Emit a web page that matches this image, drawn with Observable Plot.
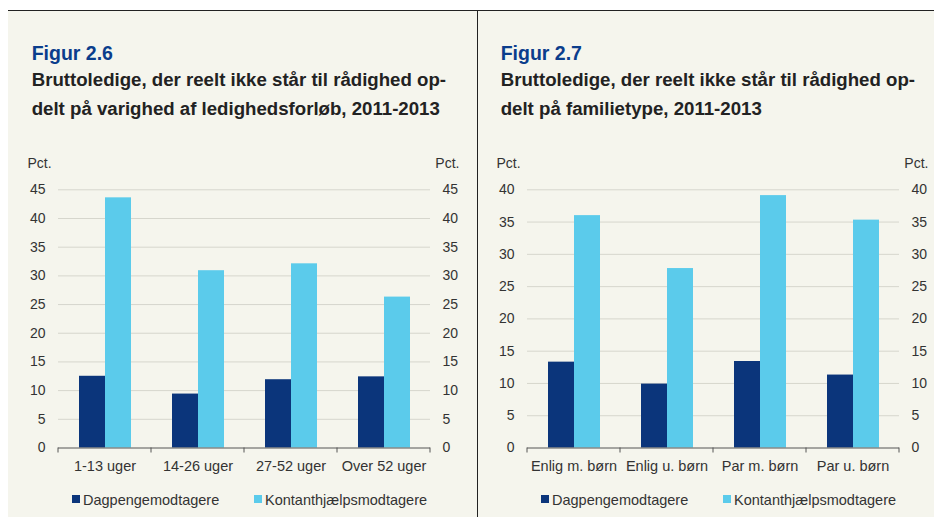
<!DOCTYPE html>
<html><head><meta charset="utf-8">
<script src="https://cdn.jsdelivr.net/npm/d3@7"></script>
<script src="https://cdn.jsdelivr.net/npm/@observablehq/plot@0.6"></script>
<style>
body{margin:0;background:#fff;font-family:"Liberation Sans",Arial,sans-serif;}
#wrap{position:relative;width:934px;height:517px;overflow:hidden;background:#fff}
.panel{position:absolute;top:10px;height:507px;background:#f5f5ed;border-top:1.3px solid #222;box-sizing:border-box}
.title{position:absolute;top:33px;font-size:19.5px;line-height:19.5px;font-weight:bold;color:#0b3d8c;white-space:nowrap}
.sub{position:absolute;top:55.3px;font-size:18.65px;line-height:28.4px;font-weight:bold;color:#222;white-space:nowrap}
.pct{position:absolute;top:145px;font-size:14px;line-height:14px;color:#333}
.chart{position:absolute;left:0;top:140px}
.legend{position:absolute;top:482px;font-size:14.5px;line-height:14.5px;color:#333;white-space:nowrap}
.sw{position:absolute;width:8px;height:8px;top:2px}
.lt{position:absolute;top:0}
</style>
</head><body><div id="wrap"></div>
<script>
const series = ["Dagpengemodtagere", "Kontanthjælpsmodtagere"];
const seriesColors = ["#0b357b", "#5bcbeb"];

const categories26 = ["1-13 uger", "14-26 uger", "27-52 uger", "Over 52 uger"];
const dagpenge26 = [12.5, 9.4, 11.9, 12.4];
const kontant26 = [43.6, 30.9, 32.1, 26.3];
const yTicks26 = [0, 5, 10, 15, 20, 25, 30, 35, 40, 45];

const categories27 = ["Enlig m. børn", "Enlig u. børn", "Par m. børn", "Par u. børn"];
const dagpenge27 = [13.3, 9.9, 13.4, 11.3];
const kontant27 = [36.0, 27.8, 39.1, 35.3];
const yTicks27 = [0, 5, 10, 15, 20, 25, 30, 35, 40];

const titles = ["Figur 2.6", "Figur 2.7"];
const subtitles = [
  ["Bruttoledige, der reelt ikke står til rådighed op-", "delt på varighed af ledighedsforløb, 2011-2013"],
  ["Bruttoledige, der reelt ikke står til rådighed op-", "delt på familietype, 2011-2013"]
];
const unit = "Pct.";

function chart(categories, d, k, ticks, width, marginRight) {
  const rows = categories.flatMap((c, i) => [
    {cat: c, serie: series[0], value: d[i]},
    {cat: c, serie: series[1], value: k[i]}
  ]);
  const svg = Plot.plot({
    width, height: 330,
    marginLeft: 50, marginRight, marginTop: 38.3, marginBottom: 33.5,
    style: {background: "transparent", fontFamily: '"Liberation Sans", Arial, sans-serif', fontSize: "14px", color: "#333", overflow: "visible"},
    fx: {domain: categories, padding: 0, axis: null, label: null},
    x: {domain: series, paddingInner: 0, paddingOuter: 0.755, axis: null},
    y: {domain: [0, ticks[ticks.length - 1]], axis: null},
    color: {domain: series, range: seriesColors},
    marks: [
      Plot.gridY(ticks.filter(t => t > 0), {stroke: "#d6d6cd", strokeOpacity: 1}),
      Plot.barY(rows, {fx: "cat", x: "serie", y: "value", fill: "serie"}),
      Plot.ruleY([0], {stroke: "#555"}),
      Plot.axisY(ticks, {anchor: "left", tickSize: 0, tickPadding: 13, label: null, fontSize: 14}),
      Plot.axisY(ticks, {anchor: "right", tickSize: 0, tickPadding: 12, label: null, fontSize: 14}),
      Plot.axisFx({anchor: "bottom", tickSize: 0, tickPadding: 12.5, label: null, fontSize: 14.5})
    ]
  });
  // boundary ticks between categories, from the plot's own scales
  const fxs = svg.scale("fx"), ys = svg.scale("y");
  const y0 = ys.apply(0);
  const bounds = categories.map(c => fxs.apply(c)).concat([fxs.apply(categories[categories.length - 1]) + fxs.bandwidth]);
  const g = d3.select(svg).append("g").attr("stroke", "#555");
  bounds.forEach(b => g.append("line").attr("x1", b).attr("x2", b).attr("y1", y0).attr("y2", y0 + 5));
  return svg;
}

function panel(left, width, idx, categories, d, k, ticks, marginRight, divider) {
  const off = divider ? 1 : 0;
  const p = document.createElement("div");
  p.className = "panel";
  p.style.left = left + "px";
  p.style.width = width + "px";
  if (divider) p.style.borderLeft = "1px solid #222";
  const t = document.createElement("div"); t.className = "title"; t.style.left = (23.7 - off) + "px"; t.textContent = titles[idx]; p.appendChild(t);
  const s = document.createElement("div"); s.className = "sub"; s.style.left = (23.7 - off) + "px";
  subtitles[idx].forEach(line => {
    const ld = document.createElement("div");
    ld.textContent = line;
    s.appendChild(ld);
  });
  p.appendChild(s);
  const c = document.createElement("div"); c.className = "chart";
  c.style.left = (-off) + "px";
  c.appendChild(chart(categories, d, k, ticks, width, marginRight)); p.appendChild(c);
  const pl = document.createElement("div"); pl.className = "pct"; pl.style.left = (19.5 - off) + "px"; pl.textContent = unit; p.appendChild(pl);
  const pr = document.createElement("div"); pr.className = "pct"; pr.style.left = (427.3 - off) + "px"; pr.textContent = unit; p.appendChild(pr);
  const lg = document.createElement("div"); lg.className = "legend"; lg.style.left = (64 - off) + "px";
  const offs = [0, 182];
  series.forEach((name, i) => {
    const sw = document.createElement("div"); sw.className = "sw"; sw.style.left = offs[i] + "px"; sw.style.background = seriesColors[i]; lg.appendChild(sw);
    const tx = document.createElement("div"); tx.className = "lt"; tx.style.left = (offs[i] + 11) + "px"; tx.textContent = name; lg.appendChild(tx);
  });
  p.appendChild(lg);
  document.getElementById("wrap").appendChild(p);
}

panel(8, 469, 0, categories26, dagpenge26, kontant26, yTicks26, 47, false);
panel(477, 457, 1, categories27, dagpenge27, kontant27, yTicks27, 35, true);
</script>
</body></html>
